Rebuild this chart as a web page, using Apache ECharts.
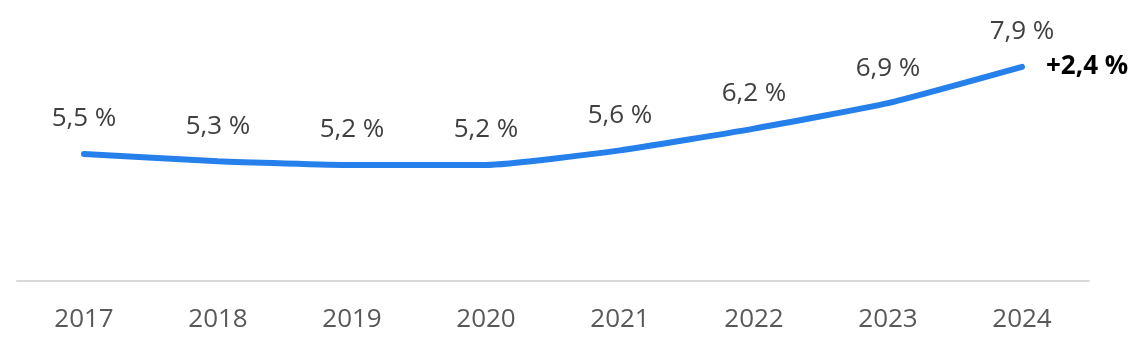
<!DOCTYPE html>
<html>
<head>
<meta charset="utf-8">
<script src="https://cdn.jsdelivr.net/npm/echarts@6/dist/echarts.min.js"></script>
<style>
  html, body { margin: 0; padding: 0; background: #fff; }
  #chart { width: 1140px; height: 354px; }
</style>
</head>
<body>
<div id="chart"></div>
<script>
const years = ['2017', '2018', '2019', '2020', '2021', '2022', '2023', '2024']
const rates = [5.5, 5.3, 5.2, 5.2, 5.6, 6.2, 6.9, 7.9]
const change = '+2,4 %'

const fmt = v => v.toFixed(1).replace('.', ',') + ' %'

const chart = echarts.init(document.getElementById('chart'))

chart.setOption({
    animation: false,
    grid: { left: 17, right: 51, top: 27, bottom: 73 },
    xAxis: {
        type: 'category',
        data: years,
        boundaryGap: true,
        axisLine: { lineStyle: { color: '#d9d9d9', width: 2 } },
        axisTick: { show: false },
        axisLabel: {
            margin: 26,
            fontSize: 26,
            color: '#595959',
            fontFamily: 'Open Sans'
        }
    },
    yAxis: {
        type: 'value',
        min: 2,
        max: 9,
        show: false,
        splitLine: { show: false }
    },
    series: [
        {
            type: 'line',
            data: rates,
            smooth: 0.15,
            symbol: 'circle',
            symbolSize: 0,
            showSymbol: true,
            itemStyle: { color: '#2680eb' },
            lineStyle: { color: '#2680eb', width: 6, cap: 'round' },
            label: {
                show: true,
                position: 'top',
                distance: 22,
                fontSize: 26,
                color: '#404040',
                fontFamily: 'Open Sans',
                formatter: p => fmt(p.value)
            }
        },
        {
            type: 'line',
            data: rates.map((v, i) => i === rates.length - 1 ? v : null),
            symbol: 'circle',
            symbolSize: 0,
            showSymbol: true,
            itemStyle: { color: 'transparent' },
            lineStyle: { width: 0 },
            label: {
                show: true,
                position: 'right',
                distance: 24,
                fontSize: 26,
                fontWeight: 'bold',
                color: '#000',
                fontFamily: 'Open Sans',
                formatter: () => change
            }
        }
    ]
})
</script>
</body>
</html>
